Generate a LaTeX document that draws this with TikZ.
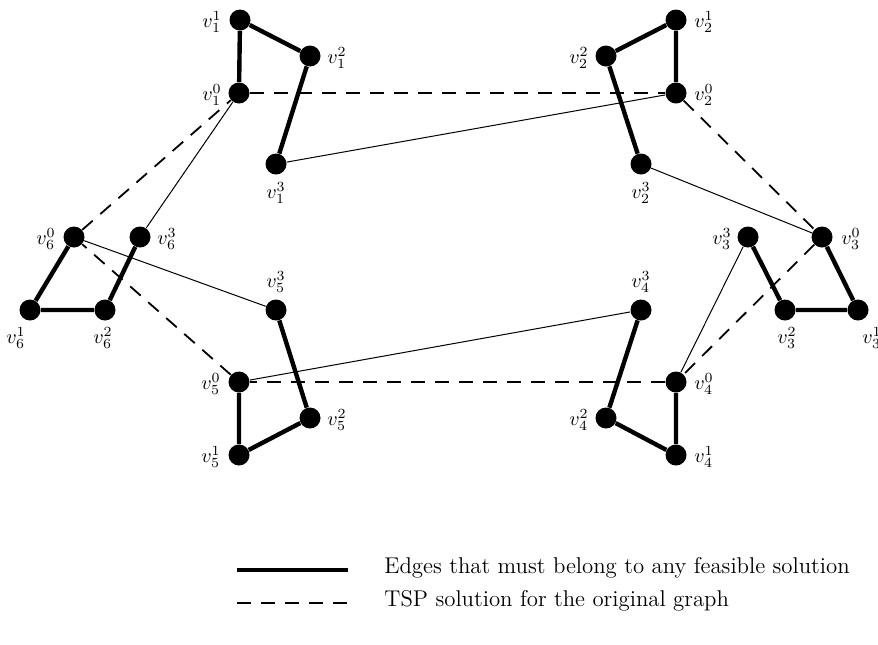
\documentclass[tikz,border=0pt]{standalone}
\begin{document}
\begin{tikzpicture}[x=0.5pt,y=-0.5pt,
  vtx/.style={circle,fill=black,inner sep=0pt,minimum size=10.5pt},
  must/.style={line width=2.2pt},
  tsp/.style={line width=0.9pt,dash pattern=on 7pt off 5pt},
  other/.style={line width=0.5pt},
  lbl/.style={inner sep=0pt,font=\normalsize},
  leg/.style={inner sep=0pt,font=\fontsize{11.4pt}{13pt}\selectfont}]
\useasboundingbox (0,0) rectangle (878,644);
% vertices
\node[vtx] (a1) at (240,20) {};
\node[vtx] (a2) at (310,56) {};
\node[vtx] (a0) at (239,93) {};
\node[vtx] (a3) at (276,164) {};
\node[vtx] (b1) at (676,20) {};
\node[vtx] (b2) at (606,56) {};
\node[vtx] (b0) at (676,93) {};
\node[vtx] (b3) at (641,164) {};
\node[vtx] (f0) at (74,237) {};
\node[vtx] (f3) at (140,237) {};
\node[vtx] (f1) at (30,310) {};
\node[vtx] (f2) at (105,310) {};
\node[vtx] (c3) at (748,237) {};
\node[vtx] (c0) at (822,237) {};
\node[vtx] (c2) at (785,310) {};
\node[vtx] (c1) at (858,310) {};
\node[vtx] (e3) at (276,310) {};
\node[vtx] (e0) at (239,382) {};
\node[vtx] (e2) at (310,418) {};
\node[vtx] (e1) at (239,455) {};
\node[vtx] (d3) at (641,310) {};
\node[vtx] (d0) at (676,382) {};
\node[vtx] (d2) at (606,418) {};
\node[vtx] (d1) at (676,455) {};
% labels
\node[lbl] (la1) at (212,22) {$v_1^1$};
\node[lbl] (la2) at (337,58) {$v_1^2$};
\node[lbl] (la0) at (212,95) {$v_1^0$};
\node[lbl] (la3) at (276,193) {$v_1^3$};
\node[lbl] (lb1) at (704,22) {$v_2^1$};
\node[lbl] (lb2) at (579,58) {$v_2^2$};
\node[lbl] (lb0) at (704,95) {$v_2^0$};
\node[lbl] (lb3) at (641,193) {$v_2^3$};
\node[lbl] (lf0) at (46,239) {$v_6^0$};
\node[lbl] (lf3) at (167,239) {$v_6^3$};
\node[lbl] (lf1) at (16,338) {$v_6^1$};
\node[lbl] (lf2) at (103,338) {$v_6^2$};
\node[lbl] (lc3) at (722,239) {$v_3^3$};
\node[lbl] (lc0) at (851,239) {$v_3^0$};
\node[lbl] (lc2) at (787,338) {$v_3^2$};
\node[lbl] (lc1) at (872,338) {$v_3^1$};
\node[lbl] (le3) at (276,282) {$v_5^3$};
\node[lbl] (le0) at (211,384) {$v_5^0$};
\node[lbl] (le2) at (337,420) {$v_5^2$};
\node[lbl] (le1) at (211,457) {$v_5^1$};
\node[lbl] (ld3) at (641,282) {$v_4^3$};
\node[lbl] (ld0) at (704,384) {$v_4^0$};
\node[lbl] (ld2) at (579,420) {$v_4^2$};
\node[lbl] (ld1) at (704,457) {$v_4^1$};
% must edges
\draw[must] (a0) -- (a1) -- (a2) -- (a3);
\draw[must] (b0) -- (b1) -- (b2) -- (b3);
\draw[must] (f0) -- (f1) -- (f2) -- (f3);
\draw[must] (c3) -- (c2) -- (c1) -- (c0);
\draw[must] (e3) -- (e2) -- (e1) -- (e0);
\draw[must] (d3) -- (d2) -- (d1) -- (d0);
% other edges
\draw[other] (f3) -- (a0);
\draw[other] (a3) -- (b0);
\draw[other] (b3) -- (c0);
\draw[other] (c3) -- (d0);
\draw[other] (d3) -- (e0);
\draw[other] (e3) -- (f0);
% tsp
\draw[tsp] (a0) -- (b0);
\draw[tsp] (b0) -- (c0);
\draw[tsp] (c0) -- (d0);
\draw[tsp] (d0) -- (e0);
\draw[tsp] (e0) -- (f0);
\draw[tsp] (f0) -- (a0);
% legend
\coordinate (m1) at (237,570);
\coordinate (m2) at (348,570);
\coordinate (t1) at (237,603);
\coordinate (t2) at (348,603);
\draw[must] (m1) -- (m2);
\draw[tsp] (t1) -- (t2);
\node[leg,anchor=west] (lm) at (384,568) {Edges that must belong to any feasible solution};
\node[leg,anchor=west] (lt) at (384,601) {TSP solution for the original graph};
\end{tikzpicture}
\end{document}
